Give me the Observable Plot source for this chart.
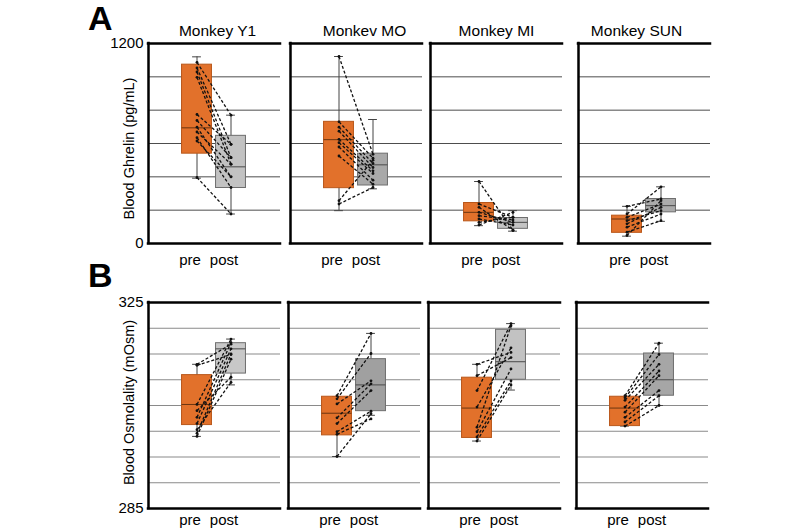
<!DOCTYPE html>
<html><head><meta charset="utf-8">
<script src="https://cdn.jsdelivr.net/npm/d3@7"></script>
<script src="https://cdn.jsdelivr.net/npm/@observablehq/plot@0.6"></script>
<style>
body{margin:0;background:#fff;}
#chart{position:relative;width:800px;height:530px;font-family:"Liberation Sans",Arial,sans-serif;color:#000;overflow:hidden;}
.letter{position:absolute;font-weight:bold;font-size:34px;line-height:34px;}
</style></head><body><div id="chart"></div>
<script>
// ---------- data ----------
const monkeys = ["Monkey Y1", "Monkev MO", "Monkey MI", "Monkey SUN"];
const phases = ["pre", "post"];

const ghrelinLabel = "Blood Ghrelin (pg/mL)";
const ghrelinTicks = [0, 1200];
const ghrelinGrid = [200, 400, 600, 800, 1000];
// box summaries: [min, q1, median, q3, max]
const ghrelinPreBox = [[392, 539, 694, 1073, 1120], [197, 332, 623, 730, 1122], [107, 133, 187, 243, 372], [44, 64, 147, 167, 223]];
const ghrelinPostBox = [[177, 333, 460, 646, 770], [328, 348, 472, 539, 744], [74, 88, 127, 153, 197], [133, 187, 227, 267, 340]];
// paired individual values
const ghrelinPre = [
  [1087, 1053, 1029, 997, 774, 738, 698, 669, 635, 615, 396],
  [1122, 730, 698, 674, 625, 605, 579, 525, 257, 237],
  [372, 237, 217, 187, 167, 147, 127, 111],
  [223, 177, 157, 137, 118, 98, 68, 48]
];
const ghrelinPost = [
  [770, 595, 515, 476, 595, 515, 400, 476, 336, 400, 177],
  [535, 512, 480, 456, 436, 420, 380, 356, 500, 336],
  [78, 157, 80, 127, 141, 111, 157, 187],
  [267, 340, 237, 197, 217, 177, 137, 257]
];

const osmoLabel = "Blood Osmolality (mOsm)";
const osmoTicks = [285, 325];
const osmoGrid = [290, 295, 300, 305, 310, 315, 320];
const osmoPreBox = [[299.0, 301.2, 305.2, 310.9, 313.0], [295.1, 299.2, 303.5, 306.7, 306.7], [298.1, 298.7, 304.5, 310.4, 313.0], [301.0, 301.0, 304.5, 306.7, 306.7]];
const osmoPostBox = [[309.0, 311.2, 316.0, 317.1, 317.9], [303.1, 303.9, 309.0, 314.0, 319.0], [308.0, 310.0, 313.5, 319.7, 320.9], [305.0, 306.9, 310.0, 315.1, 317.1]];
const osmoPre = [
  [313.0, 312.8, 305.2, 304.0, 302.7, 301.5, 300.3, 299.6, 299.0],
  [306.9, 306.3, 305.3, 302.6, 301.5, 299.9, 299.4, 295.1],
  [313.0, 310.8, 307.9, 304.7, 300.8, 299.9, 298.9, 298.1],
  [306.9, 306.5, 306.0, 304.7, 303.7, 302.7, 301.8, 301.0]
];
const osmoPost = [
  [316.9, 314.9, 317.9, 310.5, 317.2, 316.0, 309.5, 315.0, 314.0],
  [319.0, 315.1, 309.8, 309.2, 307.9, 303.9, 302.4, 303.4],
  [315.3, 314.3, 320.9, 316.2, 320.5, 312.1, 309.8, 309.0],
  [317.1, 314.9, 313.0, 311.7, 310.8, 307.9, 306.9, 305.0]
];

// ---------- styles / layout ----------
const preFill = "#E2712B", preStroke = "#B9571A", preMed = "#6b3510";
const postStroke = "#6e6e6e", postMed = "#4a4a4a";
const FONT = "'Liberation Sans', Arial, sans-serif";
const W = 132, MR = 3, BOX_HALF = 0.44, CAP_HALF = 0.13;
const X_DOMAIN = [-48.5 / 34, (W - 48.5) / 34];

const rows = [
  {
    letter: "A", letterTop: 0.5,
    top: 0, height: 273, marginTop: 43, marginBottom: 30, tickPad: 11,
    domain: [0, 1200], ticks: ghrelinTicks, grid: ghrelinGrid, gridColor: "#4d4d4d", gridWidth: 1,
    label: ghrelinLabel, labelDy: 5,
    preBox: ghrelinPreBox, postBox: ghrelinPostBox, pre: ghrelinPre, post: ghrelinPost,
    postFill: ["#C2C2C2", "#A9A9A9", "#C4C4C4", "#ABABAB"],
    lefts: [147.5, 290, 430, 578], titles: true
  },
  {
    letter: "B", letterTop: 257.5,
    top: 272, height: 258, marginTop: 30, marginBottom: 22, tickPad: 6,
    domain: [285, 325], ticks: osmoTicks, grid: osmoGrid, gridColor: "#8a8a8a", gridWidth: 1.2,
    label: osmoLabel, labelDy: -3,
    preBox: osmoPreBox, postBox: osmoPostBox, pre: osmoPre, post: osmoPost,
    postFill: ["#C8C8C8", "#A0A0A0", "#C2C2C2", "#A6A6A6"],
    lefts: [147.5, 287.5, 428, 575.5], titles: false
  }
];
const titleDx = [3, 8, 0, -8];

const chart = document.getElementById("chart");

function toBox(s, x) {
  return {x, min: s[0], q1: s[1], med: s[2], q3: s[3], max: s[4]};
}

rows.forEach(row => {
  const letter = document.createElement("div");
  letter.className = "letter";
  letter.textContent = row.letter;
  letter.style.left = "88px";
  letter.style.top = row.letterTop + "px";
  chart.appendChild(letter);

  monkeys.forEach((name, i) => {
    const first = i === 0;
    const ML = first ? 62 : 6;
    const boxes = [toBox(row.preBox[i], 0), toBox(row.postBox[i], 1)];
    const pairs = row.pre[i].map((v, j) => ({pre: v, post: row.post[i][j]}));
    const pts = pairs.flatMap(p => [{x: 0, y: p.pre}, {x: 1, y: p.post}]);
    const [y0, y1] = row.domain;

    const marks = [
      Plot.ruleY(row.grid, {stroke: row.gridColor, strokeWidth: row.gridWidth}),
      // whiskers
      Plot.ruleX(boxes, {x: "x", y1: "min", y2: "max", stroke: "#444", strokeWidth: 1}),
      Plot.ruleY(boxes, {y: "min", x1: d => d.x - CAP_HALF, x2: d => d.x + CAP_HALF, stroke: "#444", strokeWidth: 1}),
      Plot.ruleY(boxes, {y: "max", x1: d => d.x - CAP_HALF, x2: d => d.x + CAP_HALF, stroke: "#444", strokeWidth: 1}),
      // boxes
      Plot.rect(boxes.slice(0, 1), {x1: d => d.x - BOX_HALF, x2: d => d.x + BOX_HALF, y1: "q1", y2: "q3", fill: preFill, stroke: preStroke, strokeWidth: 1}),
      Plot.rect(boxes.slice(1), {x1: d => d.x - BOX_HALF, x2: d => d.x + BOX_HALF, y1: "q1", y2: "q3", fill: row.postFill[i], stroke: postStroke, strokeWidth: 1}),
      Plot.ruleY(boxes.slice(0, 1), {y: "med", x1: d => d.x - BOX_HALF, x2: d => d.x + BOX_HALF, stroke: preMed, strokeWidth: 1}),
      Plot.ruleY(boxes.slice(1), {y: "med", x1: d => d.x - BOX_HALF, x2: d => d.x + BOX_HALF, stroke: postMed, strokeWidth: 1}),
      // paired dashed lines
      Plot.link(pairs, {x1: () => 0, x2: () => 1, y1: "pre", y2: "post", stroke: "#111", strokeWidth: 1.3, strokeDasharray: "3,2"}),
      Plot.dot(pts, {x: "x", y: "y", r: 1.4, fill: "#111", stroke: null}),
      // frame: top, bottom, left
      Plot.ruleY([y0, y1], {stroke: "#000", strokeWidth: 2.5, strokeLinecap: "square"}),
      Plot.ruleX([X_DOMAIN[0]], {stroke: "#000", strokeWidth: 2.5, strokeLinecap: "square"}),
      // category labels under each panel
      Plot.text(phases, {x: (d, j) => j, text: d => d, frameAnchor: "bottom", lineAnchor: "top", dy: row.tickPad, dx: -7, fontSize: 15, fill: "#000"})
    ];
    if (row.titles) {
      marks.push(Plot.text([name], {text: d => d, frameAnchor: "top", lineAnchor: "middle", textAnchor: "middle", dy: -12, dx: titleDx[i], fontSize: 15.5, fill: "#000"}));
    }
    if (first) {
      marks.push(Plot.text([row.label], {text: d => d, frameAnchor: "left", textAnchor: "middle", lineAnchor: "middle", rotate: -90, dx: -19.5, dy: row.labelDy, fontSize: 14.5, fill: "#000"}));
    }

    const svg = Plot.plot({
      width: ML + W + MR,
      height: row.height,
      marginTop: row.marginTop,
      marginBottom: row.marginBottom,
      marginLeft: ML,
      marginRight: MR,
      style: {fontFamily: FONT, fontSize: "15px", color: "#000", background: "transparent", overflow: "visible"},
      x: {domain: X_DOMAIN, axis: null},
      y: first
        ? {domain: row.domain, ticks: row.ticks, tickFormat: d => String(d), tickSize: 0, tickPadding: 5, label: null}
        : {domain: row.domain, axis: null},
      marks
    });
    svg.style.position = "absolute";
    svg.style.left = (row.lefts[i] - ML) + "px";
    svg.style.top = row.top + "px";
    svg.style.maxWidth = "none";
    chart.appendChild(svg);
  });
});
</script></body></html>
